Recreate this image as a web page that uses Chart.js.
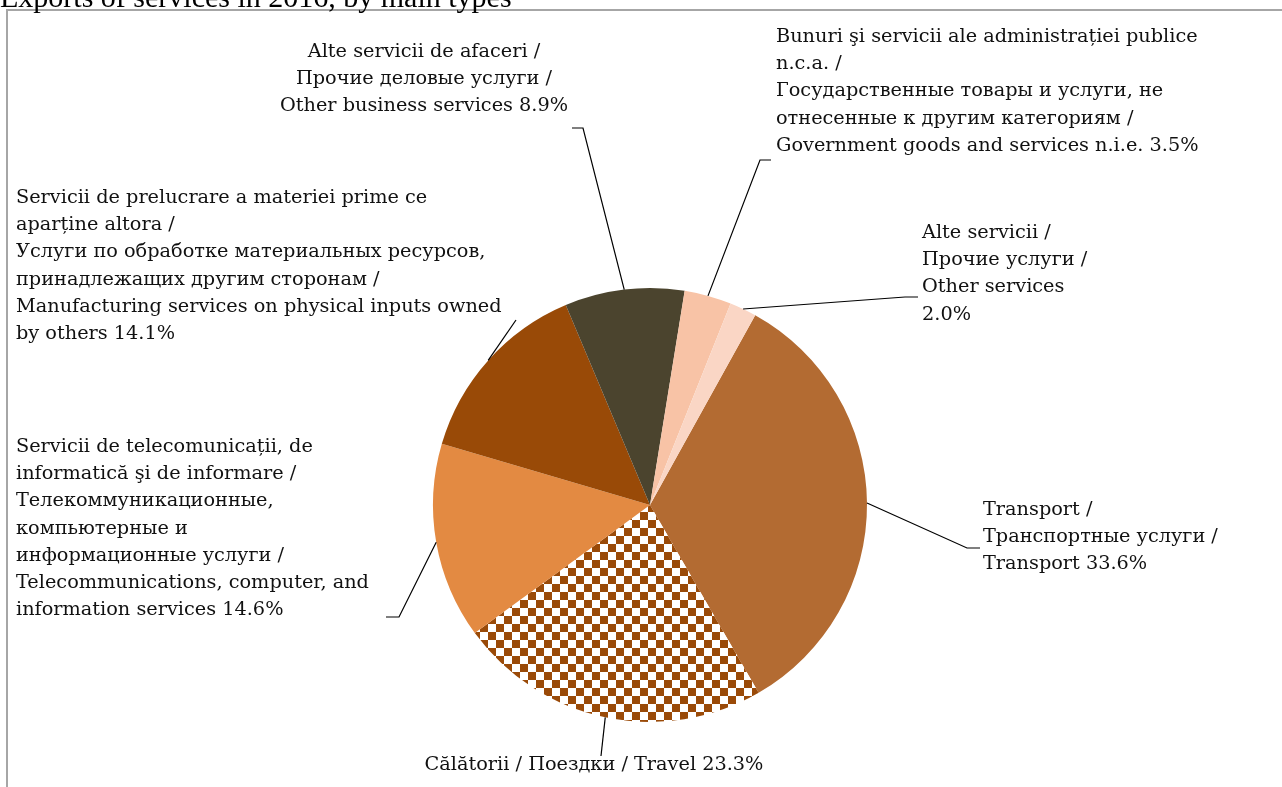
<!DOCTYPE html>
<html>
<head>
<meta charset="utf-8">
<script src="https://cdn.jsdelivr.net/npm/chart.js@4.4.1/dist/chart.umd.min.js"></script>
<style>
  body { margin: 0; background: #fff; overflow: hidden; }
  canvas { display: block; }
</style>
</head>
<body>
<canvas id="chart" width="1282" height="787"></canvas>
<script>
const title = 'Exports of services in 2016, by main types';
const categories = ['Transport', 'Travel', 'Telecommunications', 'Manufacturing', 'Other business', 'Government', 'Other'];
const shares = [33.6, 23.3, 14.6, 14.1, 8.9, 3.5, 2.0];
const labelLines = [
  ['Transport /', 'Транспортные услуги /', 'Transport {v}'],
  ['Călătorii / Поездки / Travel {v}'],
  ['Servicii de telecomunicații, de', 'informatică şi de informare /', 'Телекоммуникационные,', 'компьютерные и', 'информационные услуги /', 'Telecommunications, computer, and', 'information services {v}'],
  ['Servicii de prelucrare a materiei prime ce', 'aparține altora /', 'Услуги по обработке материальных ресурсов,', 'принадлежащих другим сторонам /', 'Manufacturing services on physical inputs owned', 'by others {v}'],
  ['Alte servicii de afaceri /', 'Прочие деловые услуги /', 'Other business services {v}'],
  ['Bunuri şi servicii ale administrației publice', 'n.c.a. /', 'Государственные товары и услуги, не', 'отнесенные к другим категориям /', 'Government goods and services n.i.e. {v}'],
  ['Alte servicii /', 'Прочие услуги /', 'Other services', '{v}']
];

// ----- label placement (x, first line y, align, leader elbow, leader end) -----
const LABEL_POS = [
  { x: 983, y: 510, align: 'left', elbow: [967, 548], end: [980, 548] },
  { x: 594, y: 765, align: 'center', elbow: [601, 756], end: null },
  { x: 16, y: 447, align: 'left', elbow: [399, 617], end: [386, 617] },
  { x: 16, y: 198, align: 'left', elbow: [516, 320], end: null },
  { x: 424, y: 52, align: 'center', elbow: [583, 128], end: [572, 128] },
  { x: 776, y: 37, align: 'left', elbow: [760, 160], end: [771, 160] },
  { x: 922, y: 233, align: 'left', elbow: [905, 297], end: [918, 297] }
];
const LINE_H = 27.2;
const FONT = '19.3px "DejaVu Serif"';

const ctx = document.getElementById('chart').getContext('2d');

function checker() {
  const c = document.createElement('canvas');
  c.width = 16; c.height = 16;
  const g = c.getContext('2d');
  g.fillStyle = '#ffffff';
  g.fillRect(0, 0, 16, 16);
  g.fillStyle = '#9a4a08';
  g.fillRect(0, 0, 8, 8);
  g.fillRect(8, 8, 8, 8);
  return ctx.createPattern(c, 'repeat');
}

const colors = ['#b36b32', checker(), '#e38a42', '#994a07', '#4b442e', '#f8c3a6', '#fad6c5'];

const decor = {
  id: 'decor',
  beforeDraw(chart) {
    const c = chart.ctx;
    c.save();
    c.strokeStyle = '#a6a6a6';
    c.lineWidth = 2;
    c.strokeRect(7, 10, 1300, 800);
    c.fillStyle = '#000';
    c.font = '30px "Liberation Serif"';
    c.textBaseline = 'alphabetic';
    c.textAlign = 'left';
    c.fillText(title, 0, 7);
    c.restore();
  },
  afterDraw(chart) {
    const c = chart.ctx;
    const meta = chart.getDatasetMeta(0);
    c.save();
    meta.data.forEach((arc, i) => {
      const p = arc.getProps(['x', 'y', 'startAngle', 'endAngle', 'outerRadius'], true);
      const mid = (p.startAngle + p.endAngle) / 2;
      const pos = LABEL_POS[i];
      c.strokeStyle = '#000';
      c.lineWidth = 1.2;
      c.beginPath();
      c.moveTo(p.x + Math.cos(mid) * p.outerRadius, p.y + Math.sin(mid) * p.outerRadius);
      c.lineTo(pos.elbow[0], pos.elbow[1]);
      if (pos.end) c.lineTo(pos.end[0], pos.end[1]);
      c.stroke();

      c.fillStyle = '#111';
      c.font = FONT;
      c.textAlign = pos.align;
      c.textBaseline = 'middle';
      labelLines[i].forEach((line, k) => {
        const text = line.replace('{v}', shares[i].toFixed(1) + '%');
        c.fillText(text, pos.x, pos.y + k * LINE_H);
      });
    });
    c.restore();
  }
};

new Chart(ctx, {
  type: 'pie',
  data: {
    labels: categories,
    datasets: [{
      data: shares,
      backgroundColor: colors,
      borderWidth: 0
    }]
  },
  options: {
    responsive: false,
    devicePixelRatio: 1,
    animation: false,
    rotation: 29,
    layout: { padding: { left: 433, right: 415, top: 288, bottom: 65 } },
    plugins: { legend: { display: false }, tooltip: { enabled: false } }
  },
  plugins: [decor]
});
</script>
</body>
</html>
